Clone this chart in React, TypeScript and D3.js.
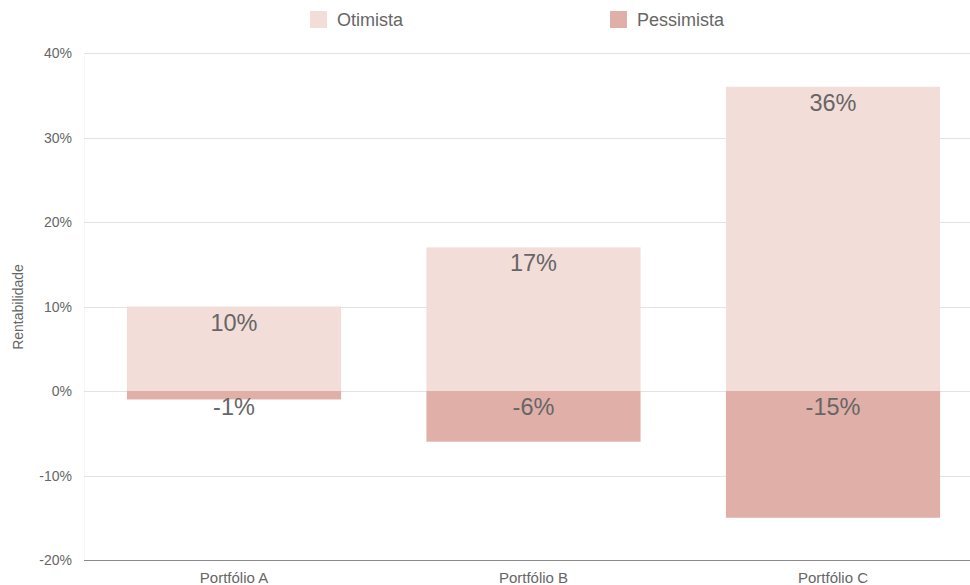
import React from "react";
import * as d3 from "d3";

const categories = ["Portfólio A", "Portfólio B", "Portfólio C"];
const otimista = [10, 17, 36];
const pessimista = [-1, -6, -15];
const seriesNames = ["Otimista", "Pessimista"];
const yTicks = [-20, -10, 0, 10, 20, 30, 40];

const W = 970, H = 585;
const colors = ["#f3ddd8", "#e0afa8"];
const font = "'Liberation Sans', Arial, Helvetica, sans-serif";

export default function App() {
  const x = d3.scaleBand<string>().domain(categories).range([84.25, 982.75]).paddingInner(0.285).paddingOuter(0.1425);
  const y = d3.scaleLinear().domain([-20, 40]).range([560, 53]);
  const bw = x.bandwidth();
  const series = [otimista, pessimista];
  return (
    <div style={{ position: "absolute", left: 0, top: 0 }}>
      <svg width={W} height={H} style={{ display: "block", fontFamily: font }}>
        <rect width={W} height={H} fill="#fff" />
        <line x1={84.5} x2={84.5} y1={53} y2={560} stroke="#f7f7f7" />
        {yTicks.map((t) => (
          <g key={t}>
            {t !== -20 && <line x1={84} x2={W} y1={Math.round(y(t)) + 0.5} y2={Math.round(y(t)) + 0.5} stroke="#e3e3e3" />}
            <text x={72} y={y(t) + 5} textAnchor="end" fontSize={14} fill="#666">{t + "%"}</text>
          </g>
        ))}
        {series.map((vals, si) =>
          vals.map((v, i) => {
            const y0 = y(0), y1 = y(v);
            return (
              <rect key={si + "-" + i} x={x(categories[i])} width={bw} y={Math.min(y0, y1)} height={Math.abs(y1 - y0)} fill={colors[si]} />
            );
          })
        )}
        {series.map((vals, si) =>
          vals.map((v, i) => (
            <text key={"l" + si + "-" + i} x={(x(categories[i]) as number) + bw / 2} y={Math.min(y(0), y(v)) + 24}
              textAnchor="middle" fontSize={23.5} fill="#666">{v + "%"}</text>
          ))
        )}
        <line x1={84} x2={W} y1={560.5} y2={560.5} stroke="#8a8a8a" />
        {categories.map((c) => (
          <text key={c} x={(x(c) as number) + bw / 2} y={583} textAnchor="middle" fontSize={15} fill="#666">{c}</text>
        ))}
        <text transform={`translate(23,307) rotate(-90)`} textAnchor="middle" fontSize={14} fill="#666">Rentabilidade</text>
        {seriesNames.map((n, i) => (
          <g key={n} transform={`translate(310,11) translate(${i * 300},0)`}>
            <rect width={17} height={17} fill={colors[i]} />
            <text x={27} y={15} fontSize={18} fill="#666">{n}</text>
          </g>
        ))}
      </svg>
    </div>
  );
}
